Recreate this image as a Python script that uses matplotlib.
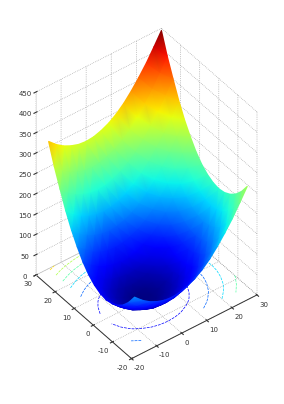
import numpy as np
import matplotlib
matplotlib.use("Agg")
import matplotlib.pyplot as plt
from matplotlib.tri import Triangulation
from mpl_toolkits.mplot3d import proj3d

x_vals = [-15, -12, -9, -6, -3, 0, 3, 6, 9, 12, 15, 18, 21, 24, 27, 30]
y_vals = [-15, -12, -9, -6, -3, 0, 3, 6, 9, 12, 15, 18, 21, 24, 27, 30]
# height, one row per y value
z_vals = [
    [115, 98, 85, 76, 70, 68, 70, 76, 85, 98, 115, 136, 160, 186, 216, 247],
    [90, 73, 60, 51, 45, 43, 45, 51, 60, 73, 90, 111, 135, 161, 191, 222],
    [71, 54, 41, 32, 26, 24, 26, 32, 41, 54, 71, 92, 116, 142, 172, 203],
    [58, 41, 28, 19, 13, 11, 13, 19, 28, 41, 58, 79, 103, 129, 159, 190],
    [50, 33, 20, 11, 5, 3, 5, 11, 20, 33, 50, 71, 95, 121, 151, 182],
    [47, 30, 17, 8, 2, 0, 2, 8, 17, 30, 47, 68, 92, 118, 148, 179],
    [50, 33, 20, 11, 5, 3, 5, 11, 20, 33, 50, 71, 95, 121, 151, 182],
    [58, 41, 28, 19, 13, 11, 13, 19, 28, 41, 58, 79, 103, 129, 159, 190],
    [71, 54, 41, 32, 26, 24, 26, 32, 41, 54, 71, 92, 116, 142, 172, 203],
    [90, 73, 60, 51, 45, 43, 45, 51, 60, 73, 90, 111, 135, 161, 191, 222],
    [115, 98, 85, 76, 70, 68, 70, 76, 85, 98, 115, 136, 160, 186, 216, 247],
    [144, 127, 114, 105, 99, 97, 99, 105, 114, 127, 144, 165, 189, 215, 245, 276],
    [179, 162, 149, 140, 134, 132, 134, 140, 149, 162, 179, 200, 224, 250, 280, 311],
    [220, 203, 190, 181, 175, 173, 175, 181, 190, 203, 220, 241, 265, 291, 321, 352],
    [263, 246, 233, 224, 218, 216, 218, 224, 233, 246, 263, 284, 308, 334, 364, 395],
    [313, 296, 283, 274, 268, 266, 268, 274, 283, 296, 313, 334, 358, 384, 414, 445],
]
x_ticks = [-20, -10, 0, 10, 20, 30]
y_ticks = [-20, -10, 0, 10, 20, 30]
z_ticks = [0, 50, 100, 150, 200, 250, 300, 350, 400, 450]
contour_levels = [50, 100, 150, 200, 250, 300, 350, 400]

plt.rcParams["grid.linestyle"] = ":"
plt.rcParams["grid.linewidth"] = 0.5
plt.rcParams["grid.color"] = "#999999"
plt.rcParams["font.family"] = "DejaVu Sans"
plt.rcParams["axes.unicode_minus"] = False

X, Y = np.meshgrid(x_vals, y_vals)
Z = np.array(z_vals, dtype=float)

fig = plt.figure(figsize=(2.84, 4.04), dpi=100)
ax = fig.add_axes([0.0, 0.15, 1.0, 284 / 404], projection="3d", proj_type="ortho")
ax.view_init(elev=41.8, azim=-127.3)
ax.set_box_aspect((158, 158, 246))
ax.set_xlim(-20, 30, view_margin=0)
ax.set_ylim(-20, 30, view_margin=0)
ax.set_zlim(0, 450, view_margin=0)
ax.set_xticks(x_ticks)
ax.set_yticks(y_ticks)
ax.set_zticks(z_ticks)
ax.tick_params(labelsize=5, pad=-5, length=1.5, width=0.4, colors="#333333")
ax.tick_params(axis="z", pad=-2)
for label in ax.get_xticklabels():
    label.set_ha("left")
for label in ax.get_yticklabels():
    label.set_ha("right")

for axis in (ax.xaxis, ax.yaxis, ax.zaxis):
    axis.set_pane_color((1, 1, 1, 0))
    axis.pane.set_edgecolor((1, 1, 1, 0))
    axis.line.set_linewidth(0.7)
ax.xaxis.line.set_color("#333333")
ax.yaxis.line.set_color("#333333")
ax.zaxis.line.set_color("#e4e4e4")

ax.contour(X, Y, Z, levels=contour_levels, zdir="z", offset=0, cmap="jet",
           vmin=0, vmax=445, linewidths=0.5, linestyles=[(0, (4, 1.5))])


def to_pixels(px, py, pz):
    u, v, w = proj3d.proj_transform(px, py, pz, ax.get_proj())
    return ax.transData.transform(np.column_stack([u, v])), w


# fit the box onto the pixel corners of the reference
fig.canvas.draw()
side = fig.bbox.width
corners, _ = to_pixels(np.array([-20.0, 30.0, 30.0]), np.array([30.0, -20.0, 30.0]), np.array([0.0, 0.0, 450.0]))
scale = (257 - 36) / (corners[1, 0] - corners[0, 0])
side = side * scale
ax.set_position([0.0, 0.0, side / 284, side / 404])
fig.canvas.draw()
corners, _ = to_pixels(np.array([-20.0, 30.0]), np.array([30.0, -20.0]), np.array([0.0, 0.0]))
shift_x = 36 - corners[0, 0]
shift_y = (404 - 275) - corners[0, 1]
ax.set_position([shift_x / 284, shift_y / 404, side / 284, side / 404])
fig.canvas.draw()

# smooth surface on a flat axes on top, back to front
xy, depth = to_pixels(X.ravel(), Y.ravel(), Z.ravel())
z_flat = Z.ravel()
n_y, n_x = Z.shape
tris = []
for j in range(n_y - 1):
    for i in range(n_x - 1):
        a = j * n_x + i
        b = a + 1
        c = a + n_x
        d = c + 1
        # split each cell along the diagonal closest to a level line
        if abs(z_flat[a] - z_flat[d]) <= abs(z_flat[b] - z_flat[c]):
            tris.append([a, b, d])
            tris.append([a, d, c])
        else:
            tris.append([a, b, c])
            tris.append([b, d, c])
tris = np.array(tris)
order = np.argsort(-depth[tris].mean(axis=1))
tris = tris[order]

ov = fig.add_axes([0, 0, 1, 1])
ov.set_xlim(0, 284)
ov.set_ylim(0, 404)
ov.axis("off")
tri = Triangulation(xy[:, 0], xy[:, 1], tris)
ov.tripcolor(tri, z_flat, shading="gouraud", cmap="jet", vmin=0, vmax=445)

plt.savefig("out.png", dpi=100)
